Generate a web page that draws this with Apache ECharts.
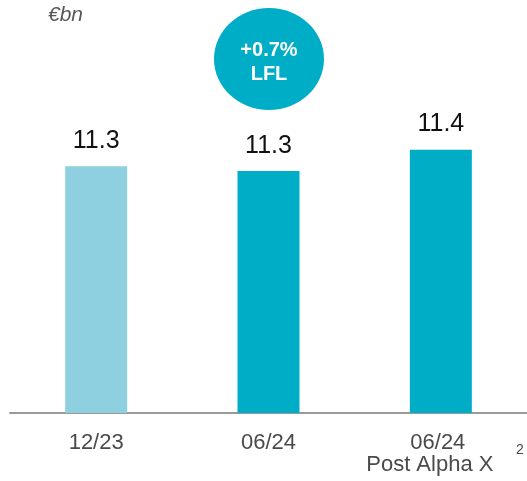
<!DOCTYPE html>
<html><head><meta charset="utf-8">
<script src="https://cdn.jsdelivr.net/npm/echarts@6/dist/echarts.min.js"></script>
<style>html,body{margin:0;padding:0;background:#fff}#c{width:527px;height:481px}</style>
</head><body><div id="c"></div>
<script>
const categories = ['12/23', '06/24', '06/24\nPost Alpha X'];
const values = [11.30, 11.27, 11.40];
const barColors = ['#8ECFE0', '#00ADC7', '#00ADC7'];
const unitLabel = '€bn';
const badgeLines = ['+0.7%', 'LFL'];
const footnoteMark = '2';

const chart = echarts.init(document.getElementById('c'), null, {renderer: 'canvas'});
chart.setOption({
  animation: false,
  grid: {left: 10, right: 0, top: 51, bottom: 68, containLabel: false},
  xAxis: {
    type: 'category',
    data: categories,
    axisLine: {show: true, lineStyle: {color: '#9a9a9a', width: 2}},
    axisTick: {show: false},
    axisLabel: {
      color: '#4a4a4a', fontSize: 22, fontFamily: 'Liberation Sans, Arial', margin: 19, lineHeight: 22,
      interval: 0,
      formatter: function (v, i) {
        if (i === 2) { const p = v.split('\n'); return '{a|' + p[0] + '}{sp|}\n' + p[1] + '{sp2|}'; }
        return v;
      },
      rich: {
        a: {fontSize: 22, color: '#4a4a4a', fontFamily: 'Liberation Sans, Arial'},
        sp: {width: 6, height: 1},
        sp2: {width: 22, height: 1}
      }
    }
  },
  yAxis: {type: 'value', min: 9.8, max: 12.0, show: false, splitLine: {show: false}},
  series: [{
    type: 'bar',
    barWidth: 62,
    data: values.map((v, i) => ({value: v, itemStyle: {color: barColors[i]}})),
    label: {
      show: true, position: 'top', distance: 13,
      color: '#111', fontSize: 25, fontFamily: 'Liberation Sans, Arial',
      formatter: p => p.value.toFixed(1)
    }
  }],
  graphic: [
    {type: 'text', left: 48, top: 5, style: {text: unitLabel, fill: '#595959', font: 'italic 21px "Liberation Sans", Arial'}},
    {type: 'ellipse', shape: {cx: 269, cy: 59, rx: 55, ry: 51}, style: {fill: '#00ADC7'}},
    {type: 'text', x: 269, y: 50, style: {text: badgeLines[0], fill: '#fff', font: 'bold 20px "Liberation Sans", Arial', textAlign: 'center', textVerticalAlign: 'middle'}},
    {type: 'text', x: 269, y: 74, style: {text: badgeLines[1], fill: '#fff', font: 'bold 20px "Liberation Sans", Arial', textAlign: 'center', textVerticalAlign: 'middle'}},
    {type: 'text', x: 516, y: 443, style: {text: footnoteMark, fill: '#4a4a4a', font: '14px "Liberation Sans", Arial'}}
  ]
});
</script></body></html>
